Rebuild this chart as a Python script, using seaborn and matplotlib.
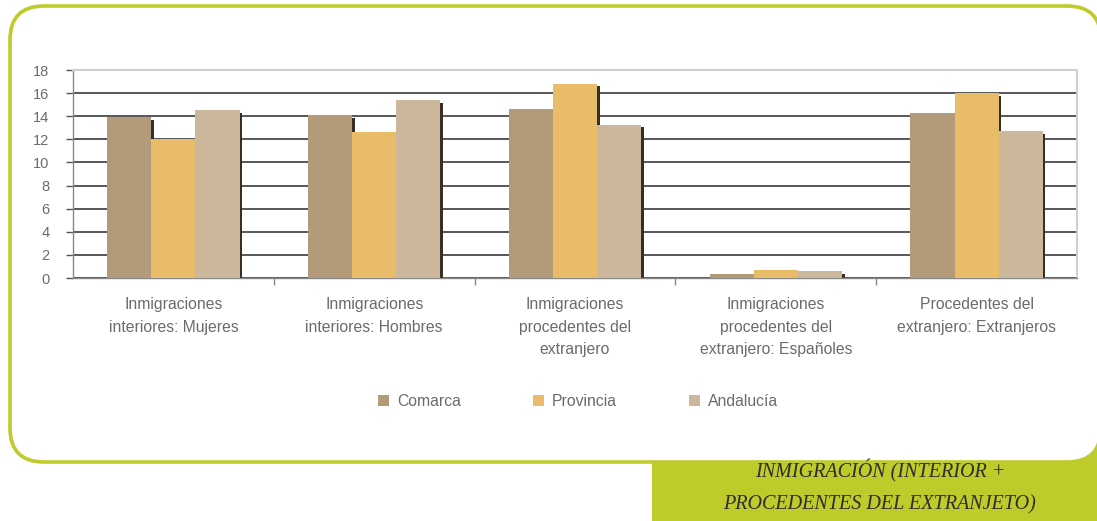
import matplotlib
matplotlib.use("Agg")
import matplotlib.pyplot as plt
import matplotlib.transforms as mtransforms
from matplotlib.patches import FancyBboxPatch, Rectangle
import seaborn as sns
import pandas as pd

# data
categorias = ["Inmigraciones\ninteriores: Mujeres",
              "Inmigraciones\ninteriores: Hombres",
              "Inmigraciones\nprocedentes del\nextranjero",
              "Inmigraciones\nprocedentes del\nextranjero: Españoles",
              "Procedentes del\nextranjero: Extranjeros"]
series = ["Comarca", "Provincia", "Andalucía"]
comarca = [13.9, 14.1, 14.6, 0.35, 14.3]
provincia = [12.0, 12.6, 16.8, 0.7, 16.0]
andalucia = [14.5, 15.4, 13.25, 0.6, 12.7]
colores = ["#B39A78", "#E8BC68", "#CBB79C"]
yticks = list(range(0, 19, 2))

verde = "#BFCA2B"
gris_texto = "#6b6b6b"

df = pd.DataFrame({
    "categoria": categorias * 3,
    "serie": [s for s in series for _ in categorias],
    "valor": comarca + provincia + andalucia,
})

sns.set_theme(style="white")
plt.rcParams["font.family"] = ["Liberation Sans", "DejaVu Sans"]

fig = plt.figure(figsize=(10.97, 5.21), dpi=100)
W, H = 1097, 521
px = mtransforms.IdentityTransform()  # pixel coords, origin bottom-left

# decorative frame: green tab and rounded box
fig.patches.append(Rectangle((652, 0), W - 652, H - 462, transform=px,
                             facecolor=verde, edgecolor="none", zorder=0))
fig.patches.append(Rectangle((1040, 0), W - 1040, H - 400, transform=px,
                             facecolor=verde, edgecolor="none", zorder=0))
fig.patches.append(FancyBboxPatch((10, H - 462), 1101 - 10, 462 - 6,
                                  boxstyle="round,pad=0,rounding_size=34",
                                  transform=px, facecolor="white",
                                  edgecolor=verde, linewidth=2.6, zorder=1))

fig.text(880 / W, 1 - 471 / H, "INMIGRACIÓN (INTERIOR +", ha="center", va="center",
         fontsize=14.5, style="italic", family="Liberation Serif", color="#2e2e2e",
         zorder=3)
fig.text(880 / W, 1 - 505 / H, "PROCEDENTES DEL EXTRANJETO)", ha="center", va="center",
         fontsize=14.5, style="italic", family="Liberation Serif", color="#2e2e2e",
         zorder=3)

ax = fig.add_axes([73 / W, 1 - 278 / H, (1077 - 73) / W, (278 - 70) / H])
ax.set_zorder(2)
ax.patch.set_alpha(0)

sns.barplot(data=df, x="categoria", y="valor", hue="serie", palette=colores,
            width=0.66, saturation=1, linewidth=0, edgecolor="none",
            ax=ax, legend=True, zorder=3)

# drop shadow behind each bar
for p in list(ax.patches):
    if p.get_height() <= 0:
        continue
    tr = mtransforms.offset_copy(ax.transData, fig=fig, x=2.5, y=-2.5, units="dots")
    ax.add_patch(Rectangle(p.get_xy(), p.get_width(), p.get_height(), transform=tr,
                           facecolor="#3a2e24", edgecolor="none", zorder=2.5))

ax.set_ylim(0, 18)
ax.set_xlim(-0.5, 4.5)
ax.set_yticks(yticks)
ax.set_yticklabels([str(t) for t in yticks], fontsize=10.5, color=gris_texto)
ax.set_xlabel("")
ax.set_ylabel("")
ax.tick_params(axis="x", length=0, labelsize=11.3, labelcolor=gris_texto, pad=14)
ax.tick_params(axis="y", left=True, length=5, width=1, color="#555555", pad=12)
ax.set_xticks([0.5, 1.5, 2.5, 3.5], minor=True)
ax.tick_params(axis="x", which="minor", bottom=True, length=5, color="#888888")
for lbl in ax.get_xticklabels():
    lbl.set_linespacing(1.6)

ax.yaxis.grid(True, color="#4a4a4a", linewidth=1.3)
ax.set_axisbelow(True)
for side in ["left", "bottom"]:
    ax.spines[side].set_color("#888888")
    ax.spines[side].set_linewidth(1)
for side in ["top", "right"]:
    ax.spines[side].set_color("#d0d0d0")
    ax.spines[side].set_linewidth(1.5)

handles, labels = ax.get_legend_handles_labels()
ax.get_legend().remove()
fig.legend(handles, labels, loc="center", bbox_to_anchor=(578 / W, 1 - 401 / H),
           ncol=3, frameon=False, fontsize=11.3, labelcolor=gris_texto,
           handlelength=0.7, handleheight=0.7, columnspacing=4.6, handletextpad=0.5)

fig.savefig("out.png", dpi=100)
